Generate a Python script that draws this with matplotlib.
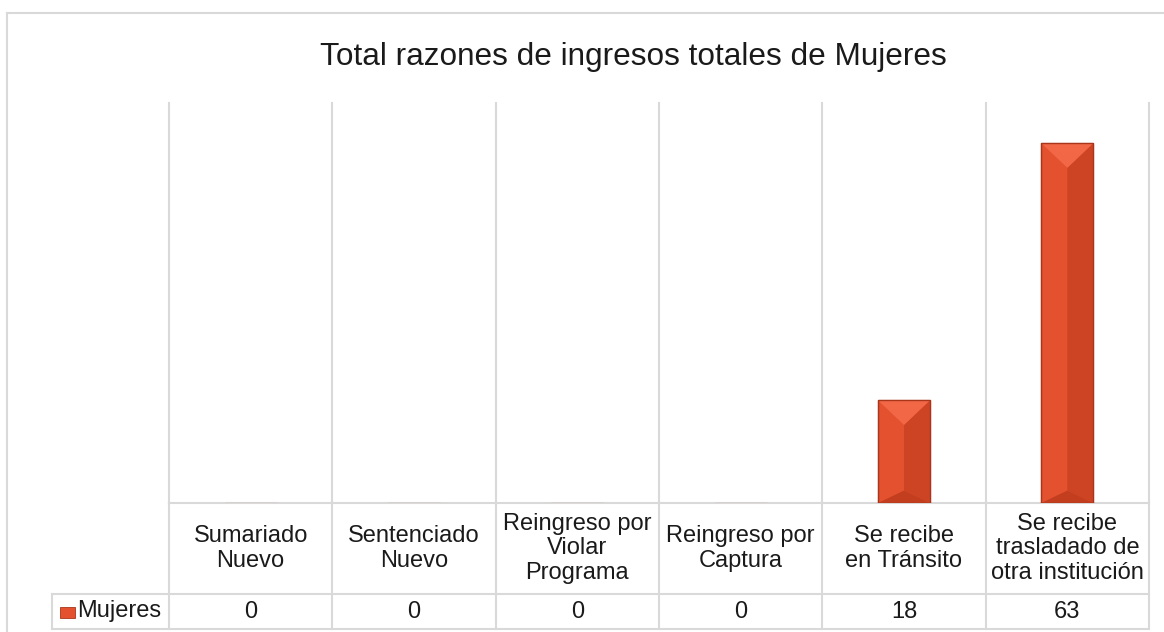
import numpy as np
import matplotlib.pyplot as plt
from matplotlib.patches import Polygon, Rectangle
from matplotlib.lines import Line2D

plt.rcParams['font.family'] = ['Liberation Sans', 'DejaVu Sans']

# Data
categories = ['Sumariado\nNuevo', 'Sentenciado\nNuevo', 'Reingreso por\nViolar\nPrograma',
              'Reingreso por\nCaptura', 'Se recibe\nen Tránsito',
              'Se recibe\ntrasladado de\notra institución']
mujeres = [0, 0, 0, 0, 18, 63]
series_name = 'Mujeres'
title = 'Total razones de ingresos totales de Mujeres'

grid_col = '#d9d9d9'
face_top = '#f26847'
face_left = '#e4512f'
face_right = '#cd4425'
face_bot = '#c23e1f'
edge_col = '#a9361b'

W, H = 1164, 632
fig = plt.figure(figsize=(W / 100, H / 100), dpi=100)
ax = fig.add_axes([169 / W, 1 - 503 / H, 980 / W, 400 / H])
n = len(categories)
ax.set_xlim(-0.5, n - 0.5)
ax.set_ylim(0, 70)
ax.axis('off')

# outer chart border (top and left visible)
fig.add_artist(Line2D([7 / W, 1.0], [1 - 13 / H] * 2, color=grid_col, lw=1.5))
fig.add_artist(Line2D([7 / W] * 2, [0, 1 - 13 / H], color=grid_col, lw=1.5))

fig.text(633 / W, 1 - 57 / H, title, ha='center', va='center', fontsize=22.7, color='#1a1a1a')

# vertical gridlines between categories
for b in np.arange(-0.5, n, 1.0):
    ax.plot([b, b], [0, 1], transform=ax.get_xaxis_transform(), color=grid_col, lw=1.5,
            clip_on=False, zorder=1)

# bars with bevel
bw = 0.32
ax.bar(range(n), mujeres, width=bw, color=face_left, edgecolor=edge_col, lw=0.8, zorder=3)
ppx = 980 / n            # pixels per x unit
ppy = 400 / 70           # pixels per y unit
half_px = bw * ppx / 2
for i, v in enumerate(mujeres):
    if v <= 0:
        continue
    x0, x1, xc = i - bw / 2, i + bw / 2, i
    d = min(half_px * 0.95 / ppy, v / 2)
    db = d * 0.5
    ax.add_patch(Polygon([(xc, v - d), (x1, v), (x1, 0), (xc, db)], closed=True,
                         facecolor=face_right, lw=0, zorder=4))
    ax.add_patch(Polygon([(x0, v), (x1, v), (xc, v - d)], closed=True,
                         facecolor=face_top, lw=0, zorder=4))
    ax.add_patch(Polygon([(x0, 0), (x1, 0), (xc, db)], closed=True,
                         facecolor=face_bot, lw=0, zorder=4))
    ax.add_patch(Rectangle((x0, 0), bw, v, fill=False, edgecolor=edge_col, lw=1.0, zorder=5))

# data table below the plot
tr = ax.get_xaxis_transform()
y_head = -91 / 400
y_val = -126 / 400
x_lab = -0.5 - 117 / ppx
kw = dict(transform=tr, color=grid_col, lw=1.5, clip_on=False, zorder=2)
ax.plot([-0.5, n - 0.5], [0, 0], **kw)
ax.plot([x_lab, n - 0.5], [y_head, y_head], **kw)
ax.plot([x_lab, n - 0.5], [y_val, y_val], **kw)
ax.plot([x_lab, x_lab], [y_head, y_val], **kw)
for b in np.arange(-0.5, n, 1.0):
    ax.plot([b, b], [0, y_val], **kw)

fs = 17
for i, lab in enumerate(categories):
    ax.text(i, y_head / 2, lab, transform=tr, ha='center', va='center', fontsize=fs,
            color='#1a1a1a', linespacing=1.13)
    ax.text(i, (y_head + y_val) / 2, str(mujeres[i]), transform=tr, ha='center', va='center',
            fontsize=fs, color='#1a1a1a')

ax.add_patch(Rectangle((x_lab + 8 / ppx, (y_head + y_val) / 2 - 6 / 400), 15 / ppx, 11 / 400,
                       transform=tr, facecolor=face_left, edgecolor=edge_col, lw=0.6,
                       clip_on=False, zorder=3))
ax.text(x_lab + 25 / ppx, (y_head + y_val) / 2, series_name, transform=tr, ha='left',
        va='center', fontsize=fs, color='#1a1a1a')

fig.savefig('out.png', dpi=100)
